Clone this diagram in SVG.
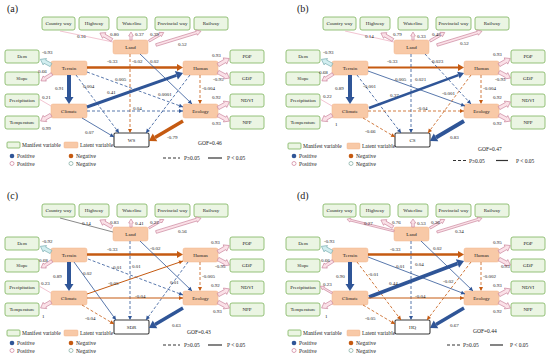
<svg xmlns="http://www.w3.org/2000/svg" width="550" height="358" viewBox="0 0 550 358">
<style>
text{font-family:"Liberation Serif","Times New Roman",serif;font-size:5px;fill:#1a1a1a}
.n{text-anchor:middle}
.lg{font-size:5.5px}
.pl{font-size:10px}
.m{fill:#ebf5e3;stroke:#7cb35a;stroke-width:0.8}
.l{fill:#f8c9a7;stroke:#f3b58c;stroke-width:0.5}
.o{fill:#fff;stroke:#3a3a3a;stroke-width:1.1}
.pk{fill:#fbe1e8;stroke:#c77f98;stroke-width:0.6}
.tl{fill:#d2eef0;stroke:#74a9ae;stroke-width:0.6}
.pln{stroke:#efb5c5;fill:none}
.gln{stroke:#8a8a8a;fill:none}
.b{stroke:#2f5597;fill:none}
.or{stroke:#c55a11;fill:none}
.d{stroke-dasharray:3 2}
</style>
<defs>
<marker id="bs" markerUnits="userSpaceOnUse" markerWidth="5" markerHeight="5" refX="4" refY="2" orient="auto" overflow="visible"><path d="M0,0L4,2L0,4Z" fill="#2f5597"/></marker>
<marker id="os" markerUnits="userSpaceOnUse" markerWidth="5" markerHeight="5" refX="4" refY="2" orient="auto" overflow="visible"><path d="M0,0L4,2L0,4Z" fill="#c55a11"/></marker>
<marker id="bb" markerUnits="userSpaceOnUse" markerWidth="8" markerHeight="10" refX="0" refY="4.5" orient="auto" overflow="visible"><path d="M0,0L7,4.5L0,9Z" fill="#2f5597"/></marker>
<marker id="bm" markerUnits="userSpaceOnUse" markerWidth="7" markerHeight="8" refX="0" refY="3.5" orient="auto" overflow="visible"><path d="M0,0L6,3.5L0,7Z" fill="#2f5597"/></marker>
<marker id="ob" markerUnits="userSpaceOnUse" markerWidth="8" markerHeight="10" refX="0" refY="4.5" orient="auto" overflow="visible"><path d="M0,0L7,4.5L0,9Z" fill="#c55a11"/></marker>
<marker id="om" markerUnits="userSpaceOnUse" markerWidth="7" markerHeight="8" refX="0" refY="3.5" orient="auto" overflow="visible"><path d="M0,0L6,3.5L0,7Z" fill="#c55a11"/></marker>
</defs>
<rect width="550" height="358" fill="#fff"/>

<!-- ===== Panel (a) ===== -->
<g id="panel-a">
<text class="pl" x="7" y="12">(a)</text>
<g id="a-cw"><rect class="m" x="42" y="17" width="33" height="13" rx="2"/><text class="n" x="58.5" y="25.3">Country way</text></g>
<g id="a-hw"><rect class="m" x="79" y="17" width="30" height="13" rx="2"/><text class="n" x="94" y="25.3">Highway</text></g>
<g id="a-wl"><rect class="m" x="117" y="17" width="30" height="13" rx="2"/><text class="n" x="132" y="25.3">Waterline</text></g>
<g id="a-pw"><rect class="m" x="155" y="17" width="35" height="13" rx="2"/><text class="n" x="172.5" y="25.3">Provincial way</text></g>
<g id="a-rw"><rect class="m" x="194" y="17" width="34" height="13" rx="2"/><text class="n" x="211" y="25.3">Railway</text></g>
<g id="a-land"><rect class="l" x="113" y="40" width="35" height="14" rx="2"/><text class="n" x="130.5" y="48.8">Land</text></g>
<g id="a-terrain"><rect class="l" x="51" y="61" width="36" height="14" rx="2"/><text class="n" x="69" y="69.8">Terrain</text></g>
<g id="a-human"><rect class="l" x="183" y="61" width="35" height="14" rx="2"/><text class="n" x="200.5" y="69.8">Human</text></g>
<g id="a-climate"><rect class="l" x="51" y="104" width="36" height="14" rx="2"/><text class="n" x="69" y="112.8">Climate</text></g>
<g id="a-ecology"><rect class="l" x="183" y="104" width="35" height="14" rx="2"/><text class="n" x="200.5" y="112.8">Ecology</text></g>
<g id="a-ws"><rect class="o" x="114" y="133" width="35" height="14" rx="1.5"/><text class="n" x="131.5" y="141.8">WS</text></g>
<g id="a-dem"><rect class="m" x="5" y="50" width="34" height="13" rx="2"/><text class="n" x="22" y="58.3">Dem</text></g>
<g id="a-slope"><rect class="m" x="5" y="72" width="34" height="13" rx="2"/><text class="n" x="22" y="80.3">Slope</text></g>
<g id="a-prec"><rect class="m" x="5" y="94" width="34" height="13" rx="2"/><text class="n" x="22" y="102.3">Precipitation</text></g>
<g id="a-temp"><rect class="m" x="5" y="116" width="34" height="13" rx="2"/><text class="n" x="22" y="124.3">Temperature</text></g>
<g id="a-pop"><rect class="m" x="230" y="50" width="34" height="13" rx="2"/><text class="n" x="247" y="58.3">POP</text></g>
<g id="a-gdp"><rect class="m" x="230" y="72" width="34" height="13" rx="2"/><text class="n" x="247" y="80.3">GDP</text></g>
<g id="a-ndvi"><rect class="m" x="230" y="94" width="34" height="13" rx="2"/><text class="n" x="247" y="102.3">NDVI</text></g>
<g id="a-npp"><rect class="m" x="230" y="116" width="34" height="13" rx="2"/><text class="n" x="247" y="124.3">NPP</text></g>
<g id="a-edges" stroke-width="0.8">
<line class="pln" x1="113" y1="42" x2="60" y2="31"/>
<path class="pk" transform="translate(112,40) rotate(210)" d="M0,-1.6H9V-3.3L14,0L9,3.3V1.6H0Z"/>
<path class="pk" transform="translate(131,40) rotate(-90)" d="M0,-1.1H4V-2.4L8,0L4,2.4V1.1H0Z"/>
<path class="pk" transform="translate(149,41) rotate(-30)" d="M0,-1.1H13V-2.4L17,0L13,2.4V1.1H0Z"/>
<path class="pk" transform="translate(156,45) rotate(-17)" d="M0,-1.3H42.5V-2.8L47,0L42.5,2.8V1.3H0Z"/>
<path class="tl" transform="translate(51,65) rotate(208)" d="M0,-1.8H7V-3.6L12,0L7,3.6V1.8H0Z"/>
<path class="pk" transform="translate(52,74) rotate(148)" d="M0,-1.5H8.5V-3L13,0L8.5,3V1.5H0Z"/>
<line class="pln" x1="51" y1="106" x2="39" y2="99"/>
<path class="pk" transform="translate(51,115) rotate(150)" d="M0,-1.8H7V-3.6L12,0L7,3.6V1.8H0Z"/>
<path class="pk" transform="translate(218,65) rotate(-30)" d="M0,-1.8H8V-3.6L13,0L8,3.6V1.8H0Z"/>
<path class="pk" transform="translate(218,72) rotate(28)" d="M0,-1.8H8V-3.6L13,0L8,3.6V1.8H0Z"/>
<path class="pk" transform="translate(218,108) rotate(-28)" d="M0,-1.8H8V-3.6L13,0L8,3.6V1.8H0Z"/>
<path class="pk" transform="translate(218,115) rotate(28)" d="M0,-1.8H8V-3.6L13,0L8,3.6V1.8H0Z"/>
<line class="or" stroke-width="2.5" x1="87" y1="67.5" x2="177" y2="67.5" marker-end="url(#om)"/>
<line class="or d" x1="130" y1="54" x2="130" y2="133" marker-end="url(#os)"/>
<line class="b" x1="140" y1="54" x2="192" y2="104" marker-end="url(#bs)"/>
<line class="b" stroke-width="4" x1="69" y1="75" x2="69" y2="97" marker-end="url(#bb)"/>
<line class="b d" x1="76" y1="75" x2="119" y2="133" marker-end="url(#bs)"/>
<line class="b d" x1="87" y1="72" x2="183" y2="107" marker-end="url(#bs)"/>
<line class="b" stroke-width="3" x1="87" y1="107" x2="176.4" y2="75.3" marker-end="url(#bb)"/>
<line class="b d" x1="190" y1="75" x2="146" y2="133" marker-end="url(#bs)"/>
<line class="or d" x1="200" y1="75" x2="200" y2="104" marker-end="url(#os)"/>
<line class="b d" x1="87" y1="111" x2="183" y2="111" marker-end="url(#bs)"/>
<line class="b" x1="82" y1="118" x2="114" y2="137" marker-end="url(#bs)"/>
<line class="or" stroke-width="3.5" x1="183" y1="121" x2="155" y2="137.4" marker-end="url(#ob)"/>
<text x="77" y="38">0.16</text><text x="110" y="36">0.80</text><text x="135" y="36">0.37</text><text x="150" y="36">0.39</text><text x="178" y="46">0.52</text>
<text x="42" y="54">-0.93</text><text x="38" y="73">0.66</text><text x="42" y="98.5">0.21</text><text x="42" y="130">0.99</text>
<text x="212" y="57">0.93</text><text x="213" y="81">-0.95</text><text x="212" y="99">0.92</text><text x="212" y="125">0.93</text>
<text x="107" y="63">-0.33</text><text x="132" y="63">-0.02</text><text x="150" y="63">0.02</text><text x="55" y="90">0.91</text>
<text x="83" y="88">0.004</text><text x="115" y="81">0.005</text><text x="107" y="93.5">0.41</text><text x="158" y="96">0.0001</text>
<text x="202" y="89.5">-0.004</text><text x="133" y="110">0.04</text><text x="85" y="133.5">0.07</text><text x="167" y="138.5">-0.79</text>
</g>
<g id="a-legend">
<rect class="m" x="7" y="142" width="13" height="6" rx="1"/><text class="lg" x="22" y="147">Manifest variable</text>
<rect class="l" x="64" y="142" width="14" height="6" rx="1"/><text class="lg" x="80" y="147">Latent variable</text>
<circle cx="12" cy="156" r="2.3" fill="#2f5597"/><text class="lg" x="17" y="158">Positive</text>
<circle cx="71" cy="156" r="2.3" fill="#c55a11"/><text class="lg" x="76" y="158">Negative</text>
<circle cx="12" cy="163.5" r="2" fill="#fff" stroke="#d28aa2" stroke-width="0.8"/><text class="lg" x="17" y="165.5">Positive</text>
<circle cx="71" cy="163.5" r="2" fill="#fff" stroke="#8ab3a8" stroke-width="0.8"/><text class="lg" x="76" y="165.5">Negative</text>
<line x1="163" y1="158" x2="180" y2="158" stroke="#333" stroke-width="1" stroke-dasharray="3 2"/><text class="lg" x="184" y="160">P≥0.05</text>
<line x1="208" y1="158" x2="222" y2="158" stroke="#333" stroke-width="1.2"/><text class="lg" x="227" y="160">P &lt; 0.05</text>
<text class="lg" x="198" y="145">GOF=0.46</text>
</g>
</g>

<!-- ===== Panel (b) ===== -->
<g id="panel-b" transform="translate(281,0)">
<text class="pl" x="16" y="12">(b)</text>
<g id="b-cw"><rect class="m" x="42" y="17" width="33" height="13" rx="2"/><text class="n" x="58.5" y="25.3">Country way</text></g>
<g id="b-hw"><rect class="m" x="79" y="17" width="30" height="13" rx="2"/><text class="n" x="94" y="25.3">Highway</text></g>
<g id="b-wl"><rect class="m" x="117" y="17" width="30" height="13" rx="2"/><text class="n" x="132" y="25.3">Waterline</text></g>
<g id="b-pw"><rect class="m" x="155" y="17" width="35" height="13" rx="2"/><text class="n" x="172.5" y="25.3">Provincial way</text></g>
<g id="b-rw"><rect class="m" x="194" y="17" width="34" height="13" rx="2"/><text class="n" x="211" y="25.3">Railway</text></g>
<g id="b-land"><rect class="l" x="113" y="40" width="35" height="14" rx="2"/><text class="n" x="130.5" y="48.8">Land</text></g>
<g id="b-terrain"><rect class="l" x="51" y="61" width="36" height="14" rx="2"/><text class="n" x="69" y="69.8">Terrain</text></g>
<g id="b-human"><rect class="l" x="183" y="61" width="35" height="14" rx="2"/><text class="n" x="200.5" y="69.8">Human</text></g>
<g id="b-climate"><rect class="l" x="51" y="104" width="36" height="14" rx="2"/><text class="n" x="69" y="112.8">Climate</text></g>
<g id="b-ecology"><rect class="l" x="183" y="104" width="35" height="14" rx="2"/><text class="n" x="200.5" y="112.8">Ecology</text></g>
<g id="b-cs"><rect class="o" x="114" y="133" width="35" height="14" rx="1.5"/><text class="n" x="131.5" y="141.8">CS</text></g>
<g id="b-dem"><rect class="m" x="5" y="50" width="34" height="13" rx="2"/><text class="n" x="22" y="58.3">Dem</text></g>
<g id="b-slope"><rect class="m" x="5" y="72" width="34" height="13" rx="2"/><text class="n" x="22" y="80.3">Slope</text></g>
<g id="b-prec"><rect class="m" x="5" y="94" width="34" height="13" rx="2"/><text class="n" x="22" y="102.3">Precipitation</text></g>
<g id="b-temp"><rect class="m" x="5" y="116" width="34" height="13" rx="2"/><text class="n" x="22" y="124.3">Temperature</text></g>
<g id="b-pop"><rect class="m" x="230" y="50" width="34" height="13" rx="2"/><text class="n" x="247" y="58.3">POP</text></g>
<g id="b-gdp"><rect class="m" x="230" y="72" width="34" height="13" rx="2"/><text class="n" x="247" y="80.3">GDP</text></g>
<g id="b-ndvi"><rect class="m" x="230" y="94" width="34" height="13" rx="2"/><text class="n" x="247" y="102.3">NDVI</text></g>
<g id="b-npp"><rect class="m" x="230" y="116" width="34" height="13" rx="2"/><text class="n" x="247" y="124.3">NPP</text></g>
<g id="b-edges" stroke-width="0.8">
<line class="pln" x1="113" y1="42" x2="64" y2="31"/>
<path class="pk" transform="translate(112,40) rotate(210)" d="M0,-1.6H9V-3.3L14,0L9,3.3V1.6H0Z"/>
<path class="pk" transform="translate(132,40) rotate(-90)" d="M0,-1.1H4V-2.4L8,0L4,2.4V1.1H0Z"/>
<path class="pk" transform="translate(149,41) rotate(-30)" d="M0,-1.2H13V-2.5L17,0L13,2.5V1.2H0Z"/>
<path class="pk" transform="translate(156,45) rotate(-17)" d="M0,-1.3H42.5V-2.8L47,0L42.5,2.8V1.3H0Z"/>
<path class="tl" transform="translate(51,65) rotate(208)" d="M0,-1.8H7V-3.6L12,0L7,3.6V1.8H0Z"/>
<path class="pk" transform="translate(52,74) rotate(148)" d="M0,-1.5H8.5V-3L13,0L8.5,3V1.5H0Z"/>
<line class="pln" x1="51" y1="106" x2="39" y2="99"/>
<path class="pk" transform="translate(51,115) rotate(150)" d="M0,-1.8H7V-3.6L12,0L7,3.6V1.8H0Z"/>
<path class="pk" transform="translate(218,65) rotate(-30)" d="M0,-1.8H8V-3.6L13,0L8,3.6V1.8H0Z"/>
<path class="pk" transform="translate(218,72) rotate(28)" d="M0,-1.8H8V-3.6L13,0L8,3.6V1.8H0Z"/>
<path class="pk" transform="translate(218,108) rotate(-28)" d="M0,-1.8H8V-3.6L13,0L8,3.6V1.8H0Z"/>
<path class="pk" transform="translate(218,115) rotate(28)" d="M0,-1.8H8V-3.6L13,0L8,3.6V1.8H0Z"/>
<line class="or" stroke-width="2" x1="87" y1="67.5" x2="177" y2="67.5" marker-end="url(#om)"/>
<line class="b d" x1="130" y1="54" x2="130" y2="133" marker-end="url(#bs)"/>
<line class="b d" x1="144" y1="54" x2="190" y2="104" marker-end="url(#bs)"/>
<line class="b" x1="87" y1="71" x2="184" y2="106" marker-end="url(#bs)"/>
<line class="b" stroke-width="4" x1="69" y1="75" x2="69" y2="97" marker-end="url(#bb)"/>
<line class="b d" x1="76" y1="75" x2="120" y2="133" marker-end="url(#bs)"/>
<line class="b" stroke-width="2.5" x1="88" y1="108" x2="177.4" y2="75.1" marker-end="url(#bm)"/>
<line class="or d" x1="190" y1="75" x2="147" y2="133" marker-end="url(#os)"/>
<line class="or d" x1="200" y1="75" x2="200" y2="104" marker-end="url(#os)"/>
<line class="or d" x1="87" y1="111" x2="183" y2="111" marker-end="url(#os)"/>
<line class="or d" x1="82" y1="118" x2="114" y2="137" marker-end="url(#os)"/>
<line class="b" stroke-width="4" x1="183" y1="121" x2="155" y2="137.4" marker-end="url(#bb)"/>
<text x="84" y="37.5">0.14</text><text x="112" y="36">0.79</text><text x="136" y="37.5">0.33</text><text x="151" y="36">0.45</text><text x="179" y="45">0.52</text>
<text x="42" y="54">-0.93</text><text x="38" y="73.5">0.68</text><text x="42" y="98">0.22</text><text x="54" y="126">1</text>
<text x="212" y="56">0.93</text><text x="214" y="81">-0.95</text><text x="212" y="98.5">0.92</text><text x="212" y="125">0.92</text>
<text x="106" y="63">-0.33</text><text x="151" y="62.5">0.023</text><text x="114" y="81">0.005</text><text x="134" y="81">0.021</text>
<text x="54" y="90">0.89</text><text x="82" y="88">-0.001</text><text x="109" y="97">0.37</text><text x="161" y="95">-0.001</text>
<text x="202" y="89.5">-0.004</text><text x="136" y="109.5">-0.04</text><text x="84" y="133">-0.66</text><text x="169" y="138.5">0.83</text>
</g>
<g id="b-legend">
<rect class="m" x="7" y="143" width="13" height="6" rx="1"/><text class="lg" x="22" y="148">Manifest variable</text>
<rect class="l" x="66" y="143" width="13" height="6" rx="1"/><text class="lg" x="81" y="148">Latent variable</text>
<circle cx="13" cy="156" r="2.3" fill="#2f5597"/><text class="lg" x="18" y="158">Positive</text>
<circle cx="70" cy="156" r="2.3" fill="#c55a11"/><text class="lg" x="75" y="158">Negative</text>
<circle cx="13" cy="163.5" r="2" fill="#fff" stroke="#d28aa2" stroke-width="0.8"/><text class="lg" x="18" y="165.5">Positive</text>
<circle cx="70" cy="163.5" r="2" fill="#fff" stroke="#8ab3a8" stroke-width="0.8"/><text class="lg" x="75" y="165.5">Negative</text>
<line x1="172" y1="160.5" x2="186" y2="160.5" stroke="#333" stroke-width="1" stroke-dasharray="3 2"/><text class="lg" x="188" y="162.5">P≥0.05</text>
<line x1="215" y1="160.5" x2="227" y2="160.5" stroke="#333" stroke-width="1.2"/><text class="lg" x="235" y="162.5">P &lt; 0.05</text>
<text class="lg" x="197" y="151">GOF=0.47</text>
</g>
</g>

<!-- ===== Panel (c) ===== -->
<g id="panel-c" transform="translate(0,187)">
<text class="pl" x="7" y="12">(c)</text>
<g id="c-cw"><rect class="m" x="42" y="17" width="33" height="13" rx="2"/><text class="n" x="58.5" y="25.3">Country way</text></g>
<g id="c-hw"><rect class="m" x="79" y="17" width="30" height="13" rx="2"/><text class="n" x="94" y="25.3">Highway</text></g>
<g id="c-wl"><rect class="m" x="117" y="17" width="30" height="13" rx="2"/><text class="n" x="132" y="25.3">Waterline</text></g>
<g id="c-pw"><rect class="m" x="155" y="17" width="35" height="13" rx="2"/><text class="n" x="172.5" y="25.3">Provincial way</text></g>
<g id="c-rw"><rect class="m" x="194" y="17" width="34" height="13" rx="2"/><text class="n" x="211" y="25.3">Railway</text></g>
<g id="c-land"><rect class="l" x="113" y="40" width="35" height="14" rx="2"/><text class="n" x="130.5" y="48.8">Land</text></g>
<g id="c-terrain"><rect class="l" x="51" y="61" width="36" height="14" rx="2"/><text class="n" x="69" y="69.8">Terrain</text></g>
<g id="c-human"><rect class="l" x="183" y="61" width="35" height="14" rx="2"/><text class="n" x="200.5" y="69.8">Human</text></g>
<g id="c-climate"><rect class="l" x="51" y="104" width="36" height="14" rx="2"/><text class="n" x="69" y="112.8">Climate</text></g>
<g id="c-ecology"><rect class="l" x="183" y="104" width="35" height="14" rx="2"/><text class="n" x="200.5" y="112.8">Ecology</text></g>
<g id="c-sdr"><rect class="o" x="114" y="133" width="35" height="14" rx="1.5"/><text class="n" x="131.5" y="141.8">SDR</text></g>
<g id="c-dem"><rect class="m" x="5" y="50" width="34" height="13" rx="2"/><text class="n" x="22" y="58.3">Dem</text></g>
<g id="c-slope"><rect class="m" x="5" y="72" width="34" height="13" rx="2"/><text class="n" x="22" y="80.3">Slope</text></g>
<g id="c-prec"><rect class="m" x="5" y="94" width="34" height="13" rx="2"/><text class="n" x="22" y="102.3">Precipitation</text></g>
<g id="c-temp"><rect class="m" x="5" y="116" width="34" height="13" rx="2"/><text class="n" x="22" y="124.3">Temperature</text></g>
<g id="c-pop"><rect class="m" x="230" y="50" width="34" height="13" rx="2"/><text class="n" x="247" y="58.3">POP</text></g>
<g id="c-gdp"><rect class="m" x="230" y="72" width="34" height="13" rx="2"/><text class="n" x="247" y="80.3">GDP</text></g>
<g id="c-ndvi"><rect class="m" x="230" y="94" width="34" height="13" rx="2"/><text class="n" x="247" y="102.3">NDVI</text></g>
<g id="c-npp"><rect class="m" x="230" y="116" width="34" height="13" rx="2"/><text class="n" x="247" y="124.3">NPP</text></g>
<g id="c-edges" stroke-width="0.8">
<line class="gln" stroke-width="1" x1="113" y1="45" x2="60" y2="31"/>
<path class="pk" transform="translate(112,40) rotate(210)" d="M0,-1.6H9V-3.3L14,0L9,3.3V1.6H0Z"/>
<path class="pk" transform="translate(131,40) rotate(-90)" d="M0,-1.1H4V-2.4L8,0L4,2.4V1.1H0Z"/>
<path class="pk" transform="translate(149,41) rotate(-30)" d="M0,-0.9H13.5V-2L17,0L13.5,2V0.9H0Z"/>
<path class="pk" transform="translate(156,45) rotate(-17)" d="M0,-1.4H42.5V-2.9L47,0L42.5,2.9V1.4H0Z"/>
<path class="tl" transform="translate(51,65) rotate(208)" d="M0,-1.8H7V-3.6L12,0L7,3.6V1.8H0Z"/>
<path class="pk" transform="translate(52,74) rotate(148)" d="M0,-1.5H8.5V-3L13,0L8.5,3V1.5H0Z"/>
<line class="pln" x1="51" y1="106" x2="39" y2="99"/>
<path class="pk" transform="translate(51,115) rotate(150)" d="M0,-1.8H7V-3.6L12,0L7,3.6V1.8H0Z"/>
<path class="pk" transform="translate(218,65) rotate(-30)" d="M0,-1.8H8V-3.6L13,0L8,3.6V1.8H0Z"/>
<path class="pk" transform="translate(218,72) rotate(28)" d="M0,-1.8H8V-3.6L13,0L8,3.6V1.8H0Z"/>
<path class="pk" transform="translate(218,108) rotate(-28)" d="M0,-1.8H8V-3.6L13,0L8,3.6V1.8H0Z"/>
<path class="pk" transform="translate(218,115) rotate(28)" d="M0,-1.8H8V-3.6L13,0L8,3.6V1.8H0Z"/>
<line class="or" stroke-width="2.5" x1="87" y1="67.5" x2="177" y2="67.5" marker-end="url(#om)"/>
<line class="b d" x1="130" y1="54" x2="130" y2="133" marker-end="url(#bs)"/>
<line class="b" x1="140" y1="54" x2="192" y2="104" marker-end="url(#bs)"/>
<line class="b" stroke-width="4" x1="69" y1="75" x2="69" y2="97" marker-end="url(#bb)"/>
<line class="b" x1="74" y1="75" x2="116" y2="133" marker-end="url(#bs)"/>
<line class="b d" x1="88" y1="72" x2="183" y2="108" marker-end="url(#bs)"/>
<line class="or" stroke-width="1" x1="87" y1="107" x2="183" y2="74" marker-end="url(#os)"/>
<line class="b d" x1="188" y1="75" x2="146" y2="133" marker-end="url(#bs)"/>
<line class="or d" x1="200" y1="75" x2="200" y2="104" marker-end="url(#os)"/>
<line class="or" stroke-width="1.2" x1="87" y1="111" x2="183" y2="111" marker-end="url(#os)"/>
<line class="or d" x1="82" y1="118" x2="114" y2="137" marker-end="url(#os)"/>
<line class="b" stroke-width="3.5" x1="183" y1="121" x2="155" y2="137.4" marker-end="url(#bb)"/>
<text x="82" y="38">0.14</text><text x="110" y="36.5">0.83</text><text x="135" y="38">0.41</text><text x="150" y="37">0.22</text><text x="178" y="46">0.56</text>
<text x="42" y="55.5">-0.92</text><text x="39" y="74.5">0.68</text><text x="41" y="98">0.23</text><text x="42" y="131">1</text>
<text x="211" y="57">0.93</text><text x="215" y="81">-0.95</text><text x="211" y="100">0.92</text><text x="213" y="126">0.93</text>
<text x="107" y="63.5">-0.33</text><text x="150" y="63">-0.02</text><text x="113" y="82">0.01</text><text x="132" y="81">0.01</text>
<text x="53" y="91">0.89</text><text x="83" y="88">0.02</text><text x="108" y="98">-0.05</text><text x="170" y="97">0.01</text>
<text x="202" y="90.5">-0.005</text><text x="135" y="111">-0.04</text><text x="85" y="133">-0.04</text><text x="172" y="140">0.63</text>
</g>
<g id="c-legend">
<rect class="m" x="7" y="143" width="13" height="6" rx="1"/><text class="lg" x="22" y="148">Manifest variable</text>
<rect class="l" x="64" y="143" width="14" height="6" rx="1"/><text class="lg" x="80" y="148">Latent variable</text>
<circle cx="12" cy="156" r="2.3" fill="#2f5597"/><text class="lg" x="17" y="158">Positive</text>
<circle cx="71" cy="156" r="2.3" fill="#c55a11"/><text class="lg" x="76" y="158">Negative</text>
<circle cx="12" cy="163.5" r="2" fill="#fff" stroke="#d28aa2" stroke-width="0.8"/><text class="lg" x="17" y="165.5">Positive</text>
<circle cx="71" cy="163.5" r="2" fill="#fff" stroke="#8ab3a8" stroke-width="0.8"/><text class="lg" x="76" y="165.5">Negative</text>
<line x1="163" y1="158" x2="180" y2="158" stroke="#333" stroke-width="1" stroke-dasharray="3 2"/><text class="lg" x="184" y="160">P≥0.05</text>
<line x1="208" y1="158" x2="222" y2="158" stroke="#333" stroke-width="1.2"/><text class="lg" x="227" y="160">P &lt; 0.05</text>
<text class="lg" x="187" y="146.5">GOF=0.43</text>
</g>
</g>

<!-- ===== Panel (d) ===== -->
<g id="panel-d" transform="translate(281,187)">
<text class="pl" x="16" y="12">(d)</text>
<g id="d-cw"><rect class="m" x="42" y="17" width="33" height="13" rx="2"/><text class="n" x="58.5" y="25.3">Country way</text></g>
<g id="d-hw"><rect class="m" x="79" y="17" width="30" height="13" rx="2"/><text class="n" x="94" y="25.3">Highway</text></g>
<g id="d-wl"><rect class="m" x="117" y="17" width="30" height="13" rx="2"/><text class="n" x="132" y="25.3">Waterline</text></g>
<g id="d-pw"><rect class="m" x="155" y="17" width="35" height="13" rx="2"/><text class="n" x="172.5" y="25.3">Provincial way</text></g>
<g id="d-rw"><rect class="m" x="194" y="17" width="34" height="13" rx="2"/><text class="n" x="211" y="25.3">Railway</text></g>
<g id="d-land"><rect class="l" x="113" y="40" width="35" height="14" rx="2"/><text class="n" x="130.5" y="48.8">Land</text></g>
<g id="d-terrain"><rect class="l" x="51" y="61" width="36" height="14" rx="2"/><text class="n" x="69" y="69.8">Terrain</text></g>
<g id="d-human"><rect class="l" x="183" y="61" width="35" height="14" rx="2"/><text class="n" x="200.5" y="69.8">Human</text></g>
<g id="d-climate"><rect class="l" x="51" y="104" width="36" height="14" rx="2"/><text class="n" x="69" y="112.8">Climate</text></g>
<g id="d-ecology"><rect class="l" x="183" y="104" width="35" height="14" rx="2"/><text class="n" x="200.5" y="112.8">Ecology</text></g>
<g id="d-hq"><rect class="o" x="114" y="133" width="35" height="14" rx="1.5"/><text class="n" x="131.5" y="141.8">HQ</text></g>
<g id="d-dem"><rect class="m" x="5" y="50" width="34" height="13" rx="2"/><text class="n" x="22" y="58.3">Dem</text></g>
<g id="d-slope"><rect class="m" x="5" y="72" width="34" height="13" rx="2"/><text class="n" x="22" y="80.3">Slope</text></g>
<g id="d-prec"><rect class="m" x="5" y="94" width="34" height="13" rx="2"/><text class="n" x="22" y="102.3">Precipitation</text></g>
<g id="d-temp"><rect class="m" x="5" y="116" width="34" height="13" rx="2"/><text class="n" x="22" y="124.3">Temperature</text></g>
<g id="d-pop"><rect class="m" x="230" y="50" width="34" height="13" rx="2"/><text class="n" x="247" y="58.3">POP</text></g>
<g id="d-gdp"><rect class="m" x="230" y="72" width="34" height="13" rx="2"/><text class="n" x="247" y="80.3">GDP</text></g>
<g id="d-ndvi"><rect class="m" x="230" y="94" width="34" height="13" rx="2"/><text class="n" x="247" y="102.3">NDVI</text></g>
<g id="d-npp"><rect class="m" x="230" y="116" width="34" height="13" rx="2"/><text class="n" x="247" y="124.3">NPP</text></g>
<g id="d-edges" stroke-width="0.8">
<path class="pk" transform="translate(113,44) rotate(194)" d="M0,-0.9H45V-2L48.5,0L45,2V0.9H0Z"/>
<path class="pk" transform="translate(112,40) rotate(210)" d="M0,-1.6H9V-3.3L14,0L9,3.3V1.6H0Z"/>
<path class="pk" transform="translate(132,40) rotate(-90)" d="M0,-1.3H4V-2.8L8,0L4,2.8V1.3H0Z"/>
<path class="pk" transform="translate(149,41) rotate(-30)" d="M0,-1.1H13V-2.4L17,0L13,2.4V1.1H0Z"/>
<path class="pk" transform="translate(156,45) rotate(-17)" d="M0,-1.1H43V-2.4L47,0L43,2.4V1.1H0Z"/>
<path class="tl" transform="translate(51,65) rotate(208)" d="M0,-1.8H7V-3.6L12,0L7,3.6V1.8H0Z"/>
<path class="pk" transform="translate(52,74) rotate(148)" d="M0,-1.5H8.5V-3L13,0L8.5,3V1.5H0Z"/>
<path class="pk" transform="translate(51,106) rotate(210)" d="M0,-0.9H10V-2L13.5,0L10,2V0.9H0Z"/>
<path class="pk" transform="translate(51,115) rotate(150)" d="M0,-1.8H7V-3.6L12,0L7,3.6V1.8H0Z"/>
<path class="pk" transform="translate(218,65) rotate(-30)" d="M0,-1.8H8V-3.6L13,0L8,3.6V1.8H0Z"/>
<path class="pk" transform="translate(218,72) rotate(28)" d="M0,-1.8H8V-3.6L13,0L8,3.6V1.8H0Z"/>
<path class="pk" transform="translate(218,108) rotate(-28)" d="M0,-1.8H8V-3.6L13,0L8,3.6V1.8H0Z"/>
<path class="pk" transform="translate(218,115) rotate(28)" d="M0,-1.8H8V-3.6L13,0L8,3.6V1.8H0Z"/>
<line class="or" stroke-width="2.5" x1="87" y1="67.5" x2="177" y2="67.5" marker-end="url(#om)"/>
<line class="b d" x1="130" y1="54" x2="130" y2="133" marker-end="url(#bs)"/>
<line class="b" x1="140" y1="54" x2="192" y2="104" marker-end="url(#bs)"/>
<line class="b" stroke-width="4" x1="69" y1="75" x2="69" y2="97" marker-end="url(#bb)"/>
<line class="b" x1="87" y1="70" x2="184" y2="107" marker-end="url(#bs)"/>
<line class="or d" x1="76" y1="75" x2="120" y2="133" marker-end="url(#os)"/>
<line class="b" stroke-width="3.5" x1="88" y1="110" x2="176.5" y2="76.5" marker-end="url(#bb)"/>
<line class="or d" x1="190" y1="75" x2="146" y2="133" marker-end="url(#os)"/>
<line class="or d" x1="200" y1="75" x2="200" y2="104" marker-end="url(#os)"/>
<line class="or" stroke-width="1" x1="87" y1="111" x2="183" y2="111" marker-end="url(#os)"/>
<line class="or d" x1="82" y1="118" x2="114" y2="137" marker-end="url(#os)"/>
<line class="b" stroke-width="3.5" x1="183" y1="121" x2="155" y2="137.4" marker-end="url(#bb)"/>
<text x="83" y="38">0.27</text><text x="111" y="36.5">0.76</text><text x="136" y="38">0.53</text><text x="150" y="37">0.36</text><text x="174" y="46">0.34</text>
<text x="43" y="55.5">-0.93</text><text x="40" y="74.5">0.66</text><text x="42" y="99">0.23</text><text x="44" y="130.5">1</text>
<text x="212" y="57">0.95</text><text x="220" y="81">0.93</text><text x="212" y="100">0.93</text><text x="212" y="126">0.92</text>
<text x="109" y="64">-0.33</text><text x="152" y="63">0.02</text><text x="115" y="81">0.01</text><text x="134" y="79">0.04</text>
<text x="55" y="91">0.90</text><text x="87" y="89">-0.01</text><text x="108" y="98">0.44</text><text x="162" y="96">-0.02</text>
<text x="202" y="90.5">-0.002</text><text x="134" y="110.5">-0.04</text><text x="84" y="133">-0.05</text><text x="169" y="140">0.67</text>
</g>
<g id="d-legend">
<rect class="m" x="7" y="143" width="13" height="6" rx="1"/><text class="lg" x="22" y="148">Manifest variable</text>
<rect class="l" x="66" y="143" width="13" height="6" rx="1"/><text class="lg" x="81" y="148">Latent variable</text>
<circle cx="13" cy="156" r="2.3" fill="#2f5597"/><text class="lg" x="18" y="158">Positive</text>
<circle cx="70" cy="156" r="2.3" fill="#c55a11"/><text class="lg" x="75" y="158">Negative</text>
<circle cx="13" cy="163.5" r="2" fill="#fff" stroke="#d28aa2" stroke-width="0.8"/><text class="lg" x="18" y="165.5">Positive</text>
<circle cx="70" cy="163.5" r="2" fill="#fff" stroke="#8ab3a8" stroke-width="0.8"/><text class="lg" x="75" y="165.5">Negative</text>
<line x1="166" y1="158" x2="179" y2="158" stroke="#333" stroke-width="1" stroke-dasharray="3 2"/><text class="lg" x="182" y="160">P≥0.05</text>
<line x1="209" y1="158" x2="222" y2="158" stroke="#333" stroke-width="1.2"/><text class="lg" x="229" y="160">P &lt; 0.05</text>
<text class="lg" x="192" y="146">GOF=0.44</text>
</g>
</g>
</svg>
